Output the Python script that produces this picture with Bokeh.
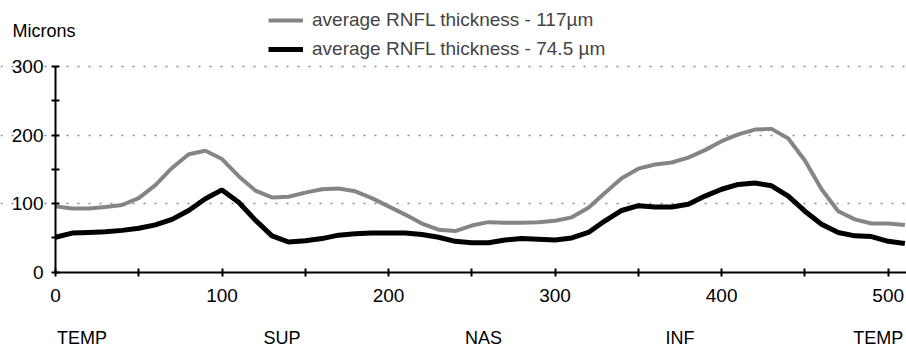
from bokeh.plotting import figure
from bokeh.models import Range1d, FixedTicker, LinearAxis, Legend, LegendItem, Label
from bokeh.embed import file_html
from bokeh.resources import INLINE

# ---- data ----
position = [0, 10, 20, 30, 40, 50, 60, 70, 80, 90, 100, 110, 120, 130, 140, 150, 160, 170, 180, 190,
            200, 210, 220, 230, 240, 250, 260, 270, 280, 290, 300, 310, 320, 330, 340, 350, 360, 370,
            380, 390, 400, 410, 420, 430, 440, 450, 460, 470, 480, 490, 500, 510]
thickness_117 = [96, 93, 93, 95, 98, 108, 127, 152, 172, 177, 165, 140, 119, 109, 110, 116, 121, 122,
                 118, 108, 96, 84, 71, 62, 60, 68, 73, 72, 72, 73, 75, 80, 94, 116, 137, 151, 157, 160,
                 167, 178, 191, 201, 208, 209, 195, 163, 121, 89, 77, 71, 71, 69]
thickness_745 = [51, 57, 58, 59, 61, 64, 69, 77, 90, 107, 120, 102, 76, 53, 44, 46, 49, 54, 56, 57,
                 57, 57, 55, 51, 45, 43, 43, 47, 49, 48, 47, 50, 58, 75, 90, 97, 95, 95, 99, 111, 121,
                 128, 130, 126, 111, 89, 70, 58, 53, 52, 45, 42]
series_labels = ["average RNFL thickness - 117\u00b5m", "average RNFL thickness - 74.5 \u00b5m"]
x_ticks = [0, 100, 200, 300, 400, 500]
x_minor_ticks = [50, 150, 250, 350, 450]
y_ticks = [0, 100, 200, 300]
y_minor_ticks = [50, 150, 250]
sector_names = ["TEMP", "SUP", "NAS", "INF", "TEMP"]
sector_positions = [16, 136, 257, 375, 494]
y_title = "Microns"

FONT = "Liberation Sans"

# The frame covers the whole canvas so that the legend and the unit label
# (annotations are clipped to the frame) can sit where the reference has them;
# the axes are pinned at x = 0 / y = 0 and bounded to the data area.
p = figure(width=906, height=347, output_backend="svg", toolbar_location=None,
           x_range=Range1d(-33, 511), y_range=Range1d(-109.8, 396.2),
           min_border_left=0, min_border_right=0, min_border_top=0, min_border_bottom=0)
p.outline_line_color = None
p.background_fill_color = "white"
p.border_fill_color = "white"

r1 = p.line(position, thickness_117, line_color="#858585", line_width=4)
r2 = p.line(position, thickness_745, line_color="#000000", line_width=5)

# grid
p.xgrid.visible = False
p.ygrid.ticker = FixedTicker(ticks=[100, 200, 300])
p.ygrid.bounds = (0, 511)
p.ygrid.grid_line_color = "#8a8a8a"
p.ygrid.grid_line_dash = "2 9"
p.ygrid.grid_line_width = 1.5


def style_axis(ax):
    ax.axis_line_color = "black"
    ax.axis_line_width = 2
    ax.major_tick_line_color = "black"
    ax.major_tick_line_width = 2
    ax.major_tick_in = 4
    ax.major_tick_out = 4
    ax.minor_tick_line_color = "black"
    ax.minor_tick_line_width = 2
    ax.minor_tick_in = 4
    ax.minor_tick_out = 4
    ax.major_label_text_font = FONT
    ax.major_label_text_font_size = "19px"
    ax.major_label_text_color = "black"


p.xaxis.ticker = FixedTicker(ticks=x_ticks, minor_ticks=x_minor_ticks)
p.yaxis.ticker = FixedTicker(ticks=y_ticks, minor_ticks=y_minor_ticks)
style_axis(p.xaxis[0])
style_axis(p.yaxis[0])
p.xaxis.bounds = (0, 511)
p.yaxis.bounds = (0, 300)
p.xaxis.fixed_location = 0
p.yaxis.fixed_location = 0
p.xaxis.major_label_standoff = 13
p.yaxis.major_label_standoff = 8

# sector labels as a second bottom axis, also pinned at y = 0
sec = LinearAxis(ticker=FixedTicker(ticks=sector_positions),
                 major_label_overrides={pos: name for pos, name in zip(sector_positions, sector_names)},
                 fixed_location=0)
sec.axis_line_color = None
sec.major_tick_line_color = None
sec.minor_tick_line_color = None
sec.major_tick_in = 0
sec.major_tick_out = 0
sec.minor_tick_in = 0
sec.minor_tick_out = 0
sec.major_label_text_font = FONT
sec.major_label_text_font_size = "18px"
sec.major_label_text_color = "black"
sec.major_label_standoff = 56
p.add_layout(sec, "below")

# legend (location = bottom-left corner, in pixels from the frame's bottom-left)
legend = Legend(items=[LegendItem(label=series_labels[0], renderers=[r1]),
                       LegendItem(label=series_labels[1], renderers=[r2])],
                location=(268, 287))
legend.label_text_font = FONT
legend.label_text_font_size = "19px"
legend.glyph_width = 35
legend.glyph_height = 20
legend.label_height = 20
legend.spacing = 7
legend.label_standoff = 9
legend.padding = 0
legend.margin = 0
legend.border_line_color = None
legend.background_fill_alpha = 0
p.add_layout(legend, "center")

p.add_layout(Label(x=-25.8, y=352, text=y_title,
                   text_font=FONT, text_font_size="18px", text_baseline="middle",
                   text_color="black"))

open("out.html", "w").write(file_html(p, INLINE))
